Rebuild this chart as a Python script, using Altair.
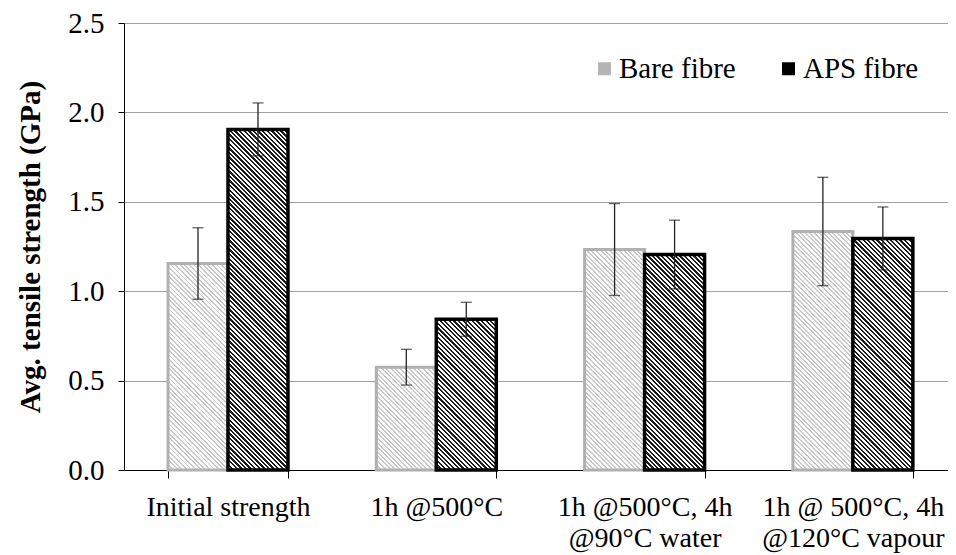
import altair as alt
import pandas as pd

# ---- data ----
categories = ["Initial strength", "1h @500°C", "1h @500°C, 4h\n@90°C water", "1h @ 500°C, 4h\n@120°C vapour"]
series = ["Bare fibre", "APS fibre"]
bare_mean = [1.155, 0.575, 1.233, 1.334]
bare_sd = [0.200, 0.100, 0.257, 0.303]
aps_mean = [1.905, 0.843, 1.205, 1.295]
aps_sd = [0.148, 0.095, 0.192, 0.176]
y_ticks = [0.0, 0.5, 1.0, 1.5, 2.0, 2.5]

rows = []
for i, c in enumerate(categories):
    for j, (s, m, sd) in enumerate([(series[0], bare_mean[i], bare_sd[i]),
                                    (series[1], aps_mean[i], aps_sd[i])]):
        rows.append({"cat": c, "series": s, "mean": m, "lo": m - sd, "hi": m + sd, "key": f"{i}-{j}"})
df = pd.DataFrame(rows)

# ---- layout constants ----
PAD_L, PAD_T, PAD_B = 116, 15, 84
W, H = 824, 447
YMAX = 2.5
P_IN = 0.424
P_OUT = 0.19
ALIGN = 0.556
n = len(categories)
step = W / (n - P_IN + 2 * P_OUT)
bar_w = step * (1 - P_IN) / 2
FONT = "Liberation Serif, Times New Roman, serif"
FS = 29
FS_X = 28

styles = {
    0: dict(stroke="#b0b0b0", sw=3, dark="#c8c8c8", light="#ffffff", frac=0.42),
    1: dict(stroke="#000000", sw=3.5, dark="#1c1c1c", light="#ffffff", frac=0.5),
}
PERIOD = 4.6


def hatch(w, h, period, frac, dark, light):
    L = w + h
    stops = []
    q = 0.0
    while q < L:
        o1 = round(q / L, 6)
        o2 = round(min((q + frac * period) / L, 1.0), 6)
        stops += [alt.GradientStop(color=light, offset=o1),
                  alt.GradientStop(color=dark, offset=o1),
                  alt.GradientStop(color=dark, offset=o2),
                  alt.GradientStop(color=light, offset=o2)]
        q += period
    d = w * w + h * h
    return alt.LinearGradient(gradient="linear", stops=stops,
                              x1=0, y1=1, x2=(w + h) * w / d, y2=1 - (w + h) * h / d)


x_enc = alt.X("cat:N", sort=categories, title=None,
              scale=alt.Scale(paddingInner=P_IN, paddingOuter=P_OUT, align=ALIGN),
              axis=alt.Axis(labelExpr="split(datum.label, '\\n')", labelAngle=0, labelLimit=0,
                            labelFont=FONT, labelFontSize=FS_X, labelColor="black",
                            labelLineHeight=31, labelPadding=15,
                            tickBand="extent", tickSize=8, tickColor="black",
                            domainColor="black", grid=False))
xo_enc = alt.XOffset("series:N", sort=series, scale=alt.Scale(paddingInner=0, paddingOuter=0))
y_enc = alt.Y("mean:Q", scale=alt.Scale(domain=[0, YMAX], nice=False),
              title="Avg. tensile strength (GPa)",
              axis=alt.Axis(values=y_ticks, format=".1f", labelFont=FONT, labelFontSize=FS,
                            labelColor="black", labelPadding=14, tickSize=6, tickColor="black",
                            domainColor="black", gridColor="#a0a0a0", gridWidth=1,
                            titleFont=FONT, titleFontSize=FS, titleFontWeight="bold",
                            titleColor="black", titlePadding=22))

base = alt.Chart(df)
layers = []
for j in range(2):
    st = styles[j]
    vals = bare_mean if j == 0 else aps_mean
    for i in range(n):
        h = vals[i] / YMAX * H
        grad = hatch(bar_w, h, PERIOD, st["frac"], st["dark"], st["light"])
        layers.append(
            base.transform_filter(alt.datum.key == f"{i}-{j}")
            .mark_bar(fill=grad, stroke=st["stroke"], strokeWidth=st["sw"])
            .encode(x=x_enc, xOffset=xo_enc, y=y_enc)
        )

err = base.mark_rule(color="#222222", strokeWidth=1.3).encode(
    x=x_enc, xOffset=xo_enc, y=alt.Y("lo:Q"), y2="hi:Q")
cap_lo = base.mark_tick(color="#222222", size=11, thickness=1.3).encode(
    x=x_enc, xOffset=xo_enc, y=alt.Y("lo:Q"))
cap_hi = base.mark_tick(color="#222222", size=11, thickness=1.3).encode(
    x=x_enc, xOffset=xo_enc, y=alt.Y("hi:Q"))

legend_layer = base.mark_square(opacity=0, size=1).encode(
    x=x_enc, xOffset=xo_enc, y=y_enc,
    color=alt.Color("series:N", sort=series,
                    scale=alt.Scale(domain=series, range=["#b4b4b4", "#000000"]),
                    legend=alt.Legend(title=None, orient="none", legendX=466, legendY=31,
                                      direction="horizontal", symbolType="square",
                                      symbolSize=169, symbolOpacity=1, symbolStrokeWidth=0,
                                      labelFont=FONT, labelFontSize=FS, labelColor="black",
                                      labelOffset=0, columnPadding=38)))

chart = alt.layer(*layers, err, cap_lo, cap_hi, legend_layer).properties(
    width=W, height=H,
    autosize=alt.AutoSizeParams(type="none"),
    padding={"left": PAD_L, "top": PAD_T, "right": 0, "bottom": PAD_B},
).configure_view(stroke=None)

chart.save("out.html", embed_options={"renderer": "svg", "actions": False})
